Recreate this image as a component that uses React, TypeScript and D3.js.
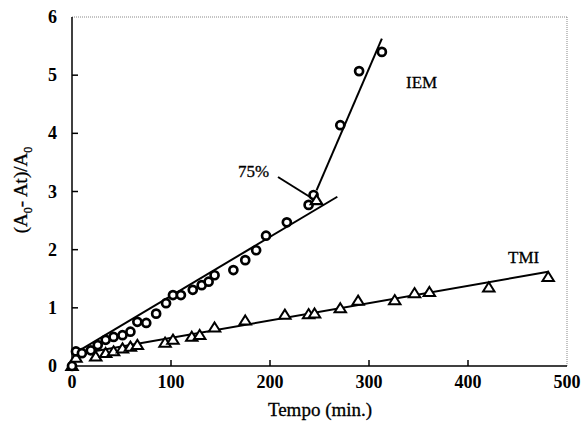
import React from "react";
import * as d3 from "d3";

const iemTime = [0, 4, 10, 19, 26, 34, 42, 51, 59, 66, 75, 85, 95, 102, 110, 122, 131, 138, 144, 163, 175, 186, 196, 217, 239, 244, 271, 290, 313];
const iemValue = [0, 0.25, 0.22, 0.27, 0.36, 0.45, 0.5, 0.53, 0.59, 0.76, 0.74, 0.9, 1.08, 1.22, 1.22, 1.31, 1.39, 1.45, 1.56, 1.65, 1.82, 1.99, 2.24, 2.47, 2.77, 2.94, 4.14, 5.07, 5.4];

const tmiTime = [0, 4, 24, 34, 42, 51, 59, 66, 94, 102, 121, 129, 144, 175, 215, 239, 245, 271, 289, 326, 346, 361, 421, 481];
const tmiValue = [0, 0.14, 0.16, 0.22, 0.25, 0.3, 0.33, 0.36, 0.4, 0.45, 0.5, 0.53, 0.66, 0.78, 0.88, 0.89, 0.9, 0.99, 1.12, 1.13, 1.25, 1.27, 1.35, 1.53];

const mark75Time = [247];
const mark75Value = [2.85];

// fitted lines (endpoints)
const iemFit1Time = [3, 268];
const iemFit1Value = [0.22, 2.91];
const iemFit2Time = [247, 313];
const iemFit2Value = [3.02, 5.63];
const tmiFitTime = [1, 481];
const tmiFitValue = [0.19, 1.62];

const xTicks = [0, 100, 200, 300, 400, 500];
const yTicks = [0, 1, 2, 3, 4, 5, 6];

const W = 584;
const H = 422;
const FONT = "'Liberation Serif', 'Times New Roman', serif";

export default function App() {
  const x = d3.scaleLinear().domain([0, 500]).range([72, 567]);
  const y = d3.scaleLinear().domain([0, 6]).range([366, 17]);
  const line = d3
    .line<[number, number]>()
    .x((d) => x(d[0]))
    .y((d) => y(d[1]));
  const pts = (t: number[], v: number[]) => t.map((tt, i) => [tt, v[i]] as [number, number]);
  const tri = (cx: number, cy: number) => {
    const s = 5.2;
    return `M${cx},${cy - s}L${cx + s * 1.1},${cy + s * 0.75}L${cx - s * 1.1},${cy + s * 0.75}Z`;
  };
  const x0 = x(0), x1 = x(500), y0 = y(0), y1 = y(6);

  return (
    <svg width={W} height={H} style={{ position: "absolute", left: 0, top: 0, background: "#fff" }} fontFamily={FONT}>
      <rect width={W} height={H} fill="#fff" />
      {/* frame */}
      <line x1={x0} x2={x1} y1={y1} y2={y1} stroke="#888" strokeWidth={1} strokeDasharray="1,1" />
      <line x1={x1} x2={x1} y1={y1} y2={y0} stroke="#888" strokeWidth={1} strokeDasharray="1,1" />
      <line x1={x0} x2={x0} y1={y1} y2={y0} stroke="#000" strokeWidth={1.5} />
      <line x1={x0} x2={x1} y1={y0} y2={y0} stroke="#000" strokeWidth={1.5} />
      {/* ticks */}
      {xTicks.slice(1, -1).map((t) => (
        <line key={"xt" + t} x1={x(t)} x2={x(t)} y1={y0} y2={y0 - 6} stroke="#000" strokeWidth={1.5} />
      ))}
      {yTicks.slice(1, -1).map((t) => (
        <line key={"yt" + t} x1={x0} x2={x0 + 6} y1={y(t)} y2={y(t)} stroke="#000" strokeWidth={1.5} />
      ))}
      {xTicks.map((t) => (
        <text key={"xl" + t} x={x(t)} y={y0 + 22} textAnchor="middle" fontSize={18} fontWeight="bold">
          {t}
        </text>
      ))}
      {yTicks.map((t) => (
        <text key={"yl" + t} x={x0 - 15} y={y(t) + 6} textAnchor="end" fontSize={18} fontWeight="bold">
          {t}
        </text>
      ))}
      {/* axis titles */}
      <text x={320} y={416} textAnchor="middle" fontSize={19} stroke="#000" strokeWidth={0.3}>
        Tempo (min.)
      </text>
      <text transform={`translate(27,${190}) rotate(-90)`} textAnchor="middle" fontSize={19} stroke="#000" strokeWidth={0.3}>
        (A<tspan fontSize={12} dy={5}>0</tspan>
        <tspan dy={-5}>- At)/A</tspan>
        <tspan fontSize={12} dy={5}>0</tspan>
      </text>
      {/* fit lines */}
      <path d={line(pts(iemFit1Time, iemFit1Value)) || ""} stroke="#000" strokeWidth={2} fill="none" />
      <path d={line(pts(iemFit2Time, iemFit2Value)) || ""} stroke="#000" strokeWidth={2} fill="none" />
      <path d={line(pts(tmiFitTime, tmiFitValue)) || ""} stroke="#000" strokeWidth={2} fill="none" />
      {/* markers */}
      {pts(tmiTime, tmiValue).map((d, i) => (
        <path key={"tm" + i} d={tri(x(d[0]), y(d[1]))} fill="#fff" stroke="#000" strokeWidth={2} />
      ))}
      {pts(iemTime, iemValue).map((d, i) => (
        <circle key={"ie" + i} cx={x(d[0])} cy={y(d[1])} r={4} fill="#fff" stroke="#000" strokeWidth={2.7} />
      ))}
      {pts(mark75Time, mark75Value).map((d, i) => (
        <path key={"m75" + i} d={tri(x(d[0]), y(d[1]))} fill="#fff" stroke="#000" strokeWidth={2.2} />
      ))}
      {/* annotations */}
      <text x={406} y={88} fontSize={17} stroke="#000" strokeWidth={0.3}>IEM</text>
      <text x={508} y={263} fontSize={17} stroke="#000" strokeWidth={0.3}>TMI</text>
      <text x={238} y={177} fontSize={17} stroke="#000" strokeWidth={0.3}>75%</text>
      <line x1={278} y1={177} x2={310} y2={197} stroke="#000" strokeWidth={2} />
    </svg>
  );
}
